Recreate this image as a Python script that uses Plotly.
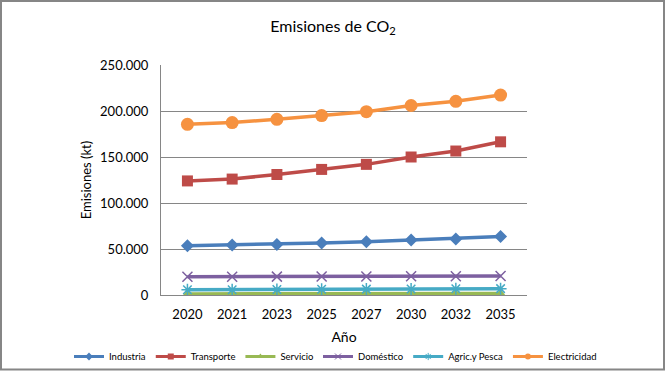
import plotly.graph_objects as go

years = ["2020", "2021", "2023", "2025", "2027", "2030", "2032", "2035"]
industria = [53600, 54300, 55000, 56500, 58000, 59700, 61000, 63600]
transporte = [124000, 126000, 131000, 136500, 142000, 150000, 156500, 166500]
servicio = [1200, 1250, 1300, 1350, 1400, 1450, 1500, 1550]
domestico = [19800, 19900, 20000, 20100, 20200, 20300, 20400, 20600]
agric = [5700, 5800, 6000, 6200, 6400, 6600, 6700, 6900]
electricidad = [185500, 187400, 191000, 195000, 199300, 206000, 210500, 217300]
y_ticks = [0, 50000, 100000, 150000, 200000, 250000]

FONT = "Lato, Calibri, Carlito, sans-serif"

series = [
    ("Industria", industria, "#4A7EBB", "diamond", 10, 0, "legend"),
    ("Transporte", transporte, "#BE4B48", "square", 11, 0, "legend"),
    ("Servicio", servicio, "#98B954", "triangle-up", 9, 0, "legend"),
    ("Doméstico", domestico, "#7D60A0", "x-thin", 10, 1.5, "legend2"),
    ("Agric.y Pesca", agric, "#46AAC5", "asterisk", 10, 1.5, "legend2"),
    ("Electricidad", electricidad, "#F69240", "circle", 13, 0, "legend2"),
]

fig = go.Figure()
for name, vals, color, sym, size, lw, lg in series:
    marker = dict(symbol=sym, size=size, color=color)
    if lw:
        marker["line"] = dict(color=color, width=lw)
    fig.add_trace(go.Scatter(
        x=years, y=vals, name=name, mode="lines+markers",
        line=dict(color=color, width=3.5),
        marker=marker, showlegend=False, legendgroup=name,
    ))
# legend-only entries with small symbols (like the reference legend)
for name, vals, color, sym, size, lw, lg in series:
    m = dict(symbol=sym, size=6, color=color)
    if lw:
        m["line"] = dict(color=color, width=1)
    fig.add_trace(go.Scatter(
        x=[None], y=[None], name=name, mode="lines+markers",
        line=dict(color=color, width=3), marker=m,
        legend=lg, legendgroup=name, hoverinfo="skip",
    ))

W, H = 666, 371
L, R, T, B = 161, 139, 65, 76
pw, ph = W - L - R, H - T - B

leg_common = dict(orientation="h", yanchor="top", y=(295 - 342) / ph,
                  xanchor="left", font=dict(size=9.5, family=FONT),
                  itemwidth=30, bgcolor="rgba(0,0,0,0)")

fig.update_layout(
    width=W, height=H,
    margin=dict(l=L, r=R, t=T, b=B, autoexpand=False),
    paper_bgcolor="white", plot_bgcolor="white",
    separators=",.",
    font=dict(family=FONT, color="#000000", size=13),
    title=dict(text="Emisiones de CO<sub>2</sub>", x=333 / W, xanchor="center",
               y=1 - 26 / H, yanchor="middle", yref="container",
               font=dict(size=16, family=FONT, color="#000000")),
    xaxis=dict(type="category", showgrid=False, showline=True, linecolor="#868686",
               linewidth=1, ticks="", tickfont=dict(size=13), ticklabelstandoff=7,
               title=dict(text="Año", font=dict(size=14), standoff=11)),
    yaxis=dict(range=[0, 250000], tickvals=y_ticks, tickformat=",.0f",
               showgrid=True, gridcolor="#868686", gridwidth=1,
               showline=True, linecolor="#868686", linewidth=1, ticks="",
               ticklabelstandoff=9,
               zeroline=False, tickfont=dict(size=13),
               title=dict(text="Emisiones (kt)", font=dict(size=13), standoff=5)),
    legend=dict(leg_common, x=(69 - L) / pw),
    legend2=dict(leg_common, x=(318 - L) / pw),
    showlegend=True,
)

# outer chart border
fig.add_shape(type="rect", xref="paper", yref="paper",
              x0=(1 - L) / pw, x1=(W - 2 - L) / pw,
              y0=(295 - (H - 1.5)) / ph, y1=(295 - 1) / ph,
              line=dict(color="#868686", width=2), fillcolor="rgba(0,0,0,0)", layer="below")

fig.write_html("out.html", config={"displayModeBar": False},
               post_script="document.body.style.margin='0';")
